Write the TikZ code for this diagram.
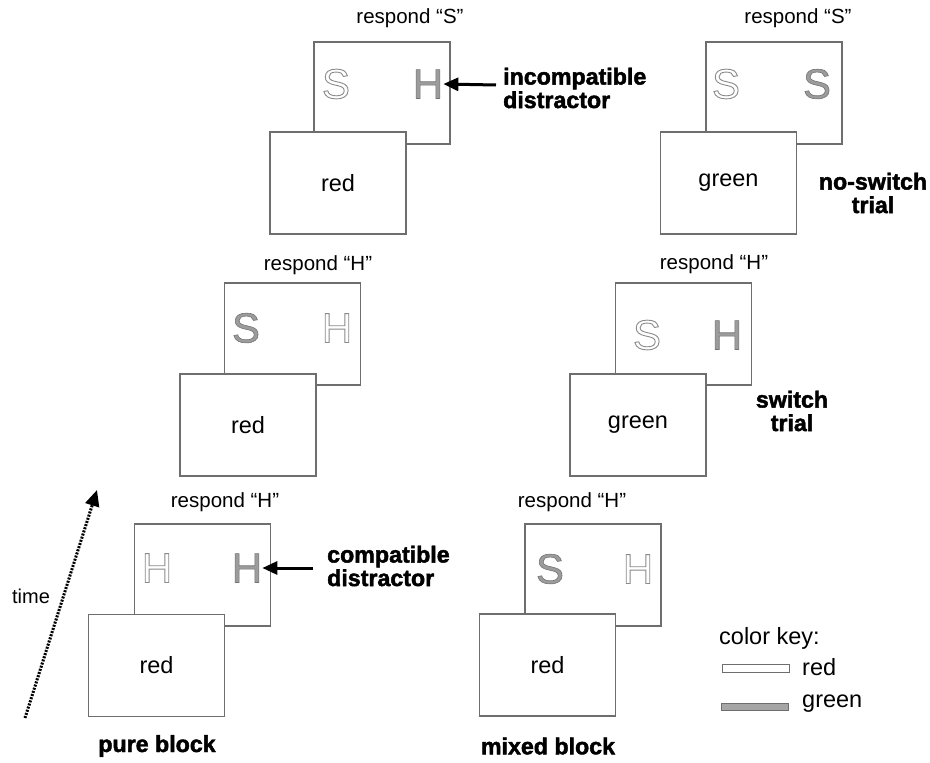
\documentclass[tikz,border=0pt]{standalone}
\usepackage{fontspec}
\setmainfont{Liberation Sans}
\usetikzlibrary{arrows.meta}
\definecolor{boxgray}{HTML}{6E6E6E}
\definecolor{redline}{HTML}{8A8A8A}
\definecolor{greenfill}{HTML}{9C9C9C}
\definecolor{swatchfill}{HTML}{A6A6A6}
\newcommand\outlinetext[1]{\special{pdf:code 1 Tr 0.9 w}#1\special{pdf:code 0 Tr}}
\newcommand\filledtext[1]{\special{pdf:code 2 Tr 0.6 w 0.45 G}#1\special{pdf:code 0 Tr}}
\newcommand\heavytext[1]{\special{pdf:code 2 Tr 0.45 w 0 G}#1\special{pdf:code 0 Tr}}
\tikzset{
  stim/.style={draw=boxgray, fill=white, line width=1.1pt, minimum width=136pt, minimum height=102pt, inner sep=0pt},
  resp/.style={font=\fontsize{20.5}{24}\selectfont, inner sep=0pt},
  timetext/.style={font=\fontsize{20}{24}\selectfont, inner sep=0pt},
  word/.style={font=\fontsize{23.5}{26}\selectfont, inner sep=0pt},
  lbl/.style={font=\fontsize{23.2}{23.5}\selectfont\bfseries, inner sep=0pt},
  rl/.style={font=\fontsize{42}{42}\selectfont, text=redline, inner sep=0pt},
  gl/.style={font=\fontsize{42}{42}\selectfont, text=greenfill, inner sep=0pt},
  pointer/.style={line width=3pt, -{Triangle[length=15pt,width=13pt]}},
  timearrow/.style={line width=3pt, dash pattern=on 2pt off 1.3pt, -{Triangle[length=16pt,width=14pt]}},
  swatch/.style={draw=boxgray, line width=0.8pt, inner sep=0pt, minimum width=67pt, minimum height=7.5pt}
}
\begin{document}
\begin{tikzpicture}[x=1pt,y=-1pt]
\path[use as bounding box] (0,0) rectangle (930,763);

% ---------- pure block ----------
% top
\node[stim] (b1) at (382,93) {};
\node[stim] (f1) at (338,183) {};
\node[word] at (f1.center) {red};
\node[resp] (r1) at (410,18) {respond “S”};
\node[rl] (l1a) at (336,84) {\outlinetext{S}};
\node[gl] (l1b) at (428,84) {\filledtext{H}};
\node[lbl, anchor=west, align=left] (inc) at (503,88) {\heavytext{incompatible}\\\heavytext{distractor}};
\draw[pointer] (inc.west) ++(-7,-3) coordinate (inc0) (inc0) -- (l1b.east);

% middle
\node[stim] (b2) at (292.5,334) {};
\node[stim] (f2) at (248,425) {};
\node[word] at (f2.center) {red};
\node[resp] (r2) at (318,265) {respond “H”};
\node[gl] (l2a) at (246,328) {\filledtext{S}};
\node[rl] (l2b) at (337,328) {\outlinetext{H}};

% bottom
\node[stim] (b3) at (202.5,575) {};
\node[stim] (f3) at (156.5,665.5) {};
\node[word] at (f3.center) {red};
\node[resp] (r3) at (225,502) {respond “H”};
\node[rl] (l3a) at (157,568) {\outlinetext{H}};
\node[gl] (l3b) at (247,568) {\filledtext{H}};
\node[lbl, anchor=west, align=left] (comp) at (327,566) {\heavytext{compatible}\\\heavytext{distractor}};
\draw[pointer] (comp.west) ++(-14,2) coordinate (comp0) (comp0) -- (l3b.east);

\node[lbl] (pure) at (157,746) {\heavytext{pure block}};

% time arrow
\coordinate (t0) at (25,718);
\coordinate (t1) at (97,490);
\draw[timearrow] (t0) -- (t1);
\node[timetext] (time) at (31,596) {time};

% ---------- mixed block ----------
% top
\node[stim] (b4) at (774,93) {};
\node[stim] (f4) at (728.5,183) {};
\node[word] at (f4.center) {green};
\node[resp] (r4) at (798,18) {respond “S”};
\node[rl] (l4a) at (726,84) {\outlinetext{S}};
\node[gl] (l4b) at (817,84) {\filledtext{S}};
\node[lbl, align=center] (nsw) at (873,193) {\heavytext{no-switch}\\\heavytext{trial}};

% middle
\node[stim] (b5) at (683.5,334) {};
\node[stim] (f5) at (638,425) {};
\node[word] at (f5.center) {green};
\node[resp] (r5) at (714,264) {respond “H”};
\node[rl] (l5a) at (647,335) {\outlinetext{S}};
\node[gl] (l5b) at (727,335) {\filledtext{H}};
\node[lbl, align=center] (sw) at (792,411) {\heavytext{switch}\\\heavytext{trial}};

% bottom
\node[stim] (b6) at (593,575) {};
\node[stim] (f6) at (547.5,665) {};
\node[word] at (f6.center) {red};
\node[resp] (r6) at (572,502) {respond “H”};
\node[gl] (l6a) at (550,569) {\filledtext{S}};
\node[rl] (l6b) at (638,569) {\outlinetext{H}};

\node[lbl] (mixed) at (548,746) {\heavytext{mixed block}};

% ---------- color key ----------
\node[word, anchor=west] (key) at (719,638) {color key:};
\node[swatch, fill=white] (kred) at (755.5,668.5) {};
\node[swatch, fill=swatchfill] (kgreen) at (754.5,707) {};
\node[word, anchor=west] (kredt) at (802,667) {red};
\node[word, anchor=west] (kgreent) at (802,704) {green};
\end{tikzpicture}
\end{document}
